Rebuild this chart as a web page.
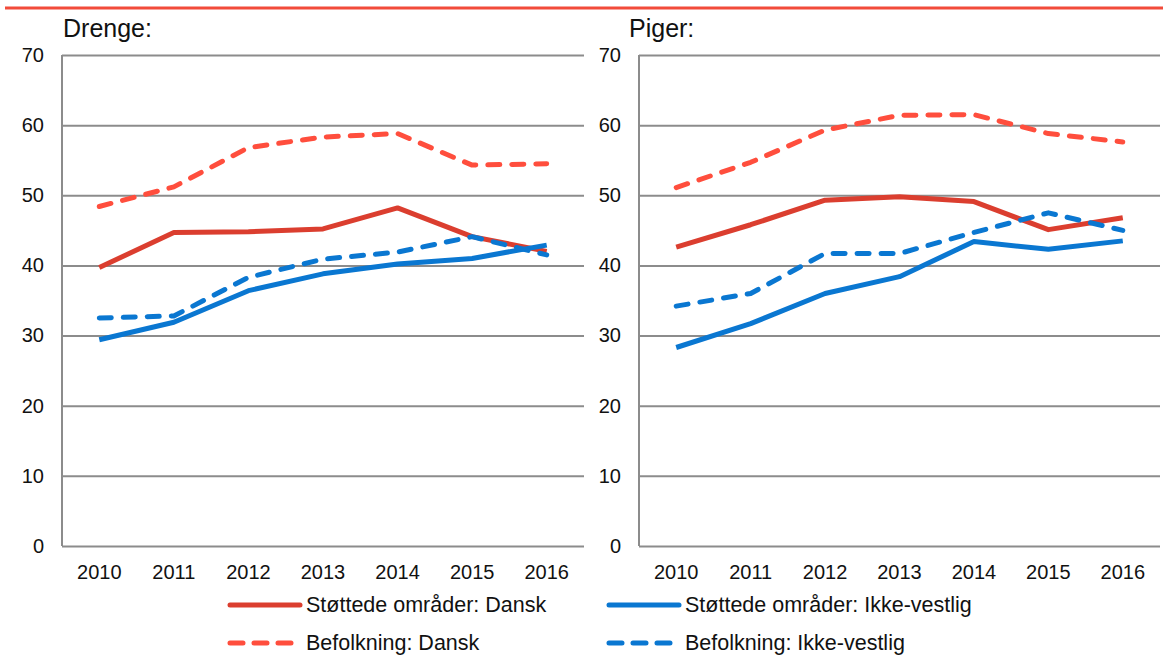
<!DOCTYPE html>
<html>
<head>
<meta charset="utf-8">
<script src="https://cdn.jsdelivr.net/npm/d3@7"></script>
<style>
  body { margin: 0; background: #fff; }
  svg { font-family: 'Liberation Sans', Arial, sans-serif; }
  .tick text { font-size: 20px; fill: #111; }
</style>
</head>
<body>
<div id="chart"></div>
<script>
const years = ['2010', '2011', '2012', '2013', '2014', '2015', '2016']
const yTicks = [0, 10, 20, 30, 40, 50, 60, 70]

// Drenge
const drengeStottetDansk = [39.7, 44.7, 44.8, 45.2, 48.2, 44.1, 42.0]
const drengeBefolkDansk = [48.4, 51.2, 56.8, 58.3, 58.8, 54.3, 54.5]
const drengeStottetIkkeVestlig = [29.4, 31.9, 36.4, 38.8, 40.2, 41.0, 42.9]
const drengeBefolkIkkeVestlig = [32.5, 32.8, 38.3, 40.9, 41.9, 44.1, 41.5]

// Piger
const pigerStottetDansk = [42.6, 45.8, 49.3, 49.8, 49.1, 45.1, 46.8]
const pigerBefolkDansk = [51.1, 54.7, 59.3, 61.4, 61.5, 58.8, 57.6]
const pigerStottetIkkeVestlig = [28.3, 31.7, 36.0, 38.4, 43.4, 42.3, 43.5]
const pigerBefolkIkkeVestlig = [34.2, 36.0, 41.7, 41.7, 44.7, 47.5, 45.0]

const seriesNames = [
  'Støttede områder: Dansk',
  'Befolkning: Dansk',
  'Støttede områder: Ikke-vestlig',
  'Befolkning: Ikke-vestlig'
]

const styles = {
  'Støttede områder: Dansk': { color: '#db3e2f', dash: null },
  'Befolkning: Dansk': { color: '#ff4e3d', dash: '12,12' },
  'Støttede områder: Ikke-vestlig': { color: '#0a77d1', dash: null },
  'Befolkning: Ikke-vestlig': { color: '#0a77d1', dash: '12,12' }
}

const W = 1163
const H = 657

const svg = d3
  .select('#chart')
  .append('svg')
  .attr('width', W)
  .attr('height', H)

// red rule at the top
svg
  .append('line')
  .attr('x1', 5)
  .attr('x2', W)
  .attr('y1', 8)
  .attr('y2', 8)
  .attr('stroke', '#f24b3a')
  .attr('stroke-width', 3)

const yScale = d3
  .scaleLinear()
  .domain([0, 70])
  .range([546, 55])

function drawPanel(title, titleX, left, right, values) {
  const g = svg.append('g')

  const xScale = d3
    .scaleBand()
    .domain(years)
    .range([left, right])

  const yAxis = d3
    .axisLeft(yScale)
    .tickValues(yTicks)
    .tickSize(-(right - left))
    .tickPadding(18)

  const ya = g
    .append('g')
    .attr('transform', 'translate(' + left + ',0)')
    .call(yAxis)
  ya.select('.domain').remove()
  ya.selectAll('.tick line').attr('stroke', '#8c8c8c').attr('stroke-width', 2)

  // vertical axis line
  g.append('line')
    .attr('x1', left)
    .attr('x2', left)
    .attr('y1', yScale(70))
    .attr('y2', yScale(0))
    .attr('stroke', '#8c8c8c')
    .attr('stroke-width', 2)

  const xAxis = d3
    .axisBottom(xScale)
    .tickSize(0)
    .tickPadding(19)

  const xa = g
    .append('g')
    .attr('transform', 'translate(0,' + yScale(0) + ')')
    .call(xAxis)
  xa.select('.domain').remove()

  g.append('text')
    .attr('x', titleX)
    .attr('y', 37)
    .attr('font-size', 25)
    .attr('fill', '#111')
    .text(title)

  const line = d3
    .line()
    .x((d, i) => xScale(years[i]) + xScale.bandwidth() / 2)
    .y(d => yScale(d))

  seriesNames.forEach((name, k) => {
    g.append('path')
      .datum(values[k])
      .attr('d', line)
      .attr('fill', 'none')
      .attr('stroke', styles[name].color)
      .attr('stroke-width', 5)
      .attr('stroke-linecap', styles[name].dash ? 'round' : 'butt')
      .attr('stroke-linejoin', 'round')
      .attr('stroke-dasharray', styles[name].dash)
  })
}

drawPanel('Drenge:', 63, 62, 584, [
  drengeStottetDansk,
  drengeBefolkDansk,
  drengeStottetIkkeVestlig,
  drengeBefolkIkkeVestlig
])

drawPanel('Piger:', 629, 639, 1160, [
  pigerStottetDansk,
  pigerBefolkDansk,
  pigerStottetIkkeVestlig,
  pigerBefolkIkkeVestlig
])

// legend
const legendPos = [
  { x: 230, y: 605 },
  { x: 230, y: 643 },
  { x: 609, y: 605 },
  { x: 609, y: 643 }
]

seriesNames.forEach((name, i) => {
  const p = legendPos[i]
  const lg = svg.append('g').attr('transform', 'translate(' + p.x + ',' + p.y + ')')
  lg.append('line')
    .attr('x1', 0)
    .attr('x2', 70)
    .attr('y1', 0)
    .attr('y2', 0)
    .attr('stroke', styles[name].color)
    .attr('stroke-width', 5)
    .attr('stroke-linecap', 'round')
    .attr('stroke-dasharray', styles[name].dash ? '13,11' : null)
  lg.append('text')
    .attr('x', 76)
    .attr('y', 7)
    .attr('font-size', 21.5)
    .attr('fill', '#111')
    .text(name)
})
</script>
</body>
</html>
